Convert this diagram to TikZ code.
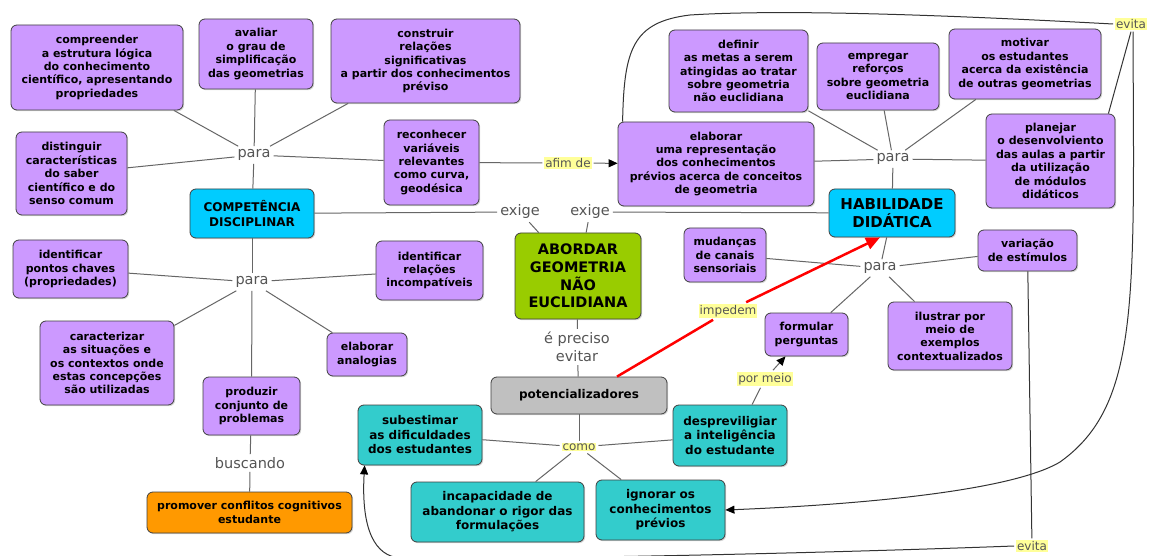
\documentclass[tikz,border=0pt]{standalone}
\usepackage{fontspec}
\setmainfont{DejaVu Sans}
\usetikzlibrary{arrows.meta,shadows}
\definecolor{purp}{HTML}{CC99FF}
\definecolor{cyanb}{HTML}{00CCFF}
\definecolor{greenb}{HTML}{99CC00}
\definecolor{orangeb}{HTML}{FF9900}
\definecolor{tealb}{HTML}{33CCCC}
\definecolor{greyb}{HTML}{C0C0C0}
\definecolor{lab}{HTML}{FFFF99}
\definecolor{linkc}{HTML}{555555}
\definecolor{edgec}{HTML}{666666}
\begin{document}
\begin{tikzpicture}[x=1pt,y=-1pt,
 concept/.style={draw=black!75, line width=0.8pt, rounded corners=6pt, align=center, inner sep=1pt,
   drop shadow={shadow xshift=1.2pt,shadow yshift=-1.2pt,opacity=0.3}},
 pbox/.style={concept, fill=purp, font=\fontsize{11}{13.4}\selectfont\bfseries},
 tbox/.style={concept, fill=tealb, font=\fontsize{12}{14.5}\selectfont\bfseries},
 link/.style={text=linkc, font=\fontsize{14.5}{18}\selectfont, inner sep=3pt, align=center},
 ylab/.style={fill=lab, text=linkc, font=\fontsize{12}{14}\selectfont, inner sep=1pt, outer sep=2pt},
 conn/.style={draw=edgec, line width=1pt},
 curve/.style={draw=black!80, line width=1pt},
 sz/.style 2 args={minimum width=#1pt, minimum height=#2pt},
 blacktip/.style={-{Triangle[length=9pt,width=8pt,color=black]}},
]
\fill[white] (0,0) rectangle (1149,556);
\useasboundingbox (0,0) rectangle (1149,556);

% nodes
\node[pbox, sz={172}{85}] (compr) at (97,67.5) {compreender\\a estrutura lógica\\do conhecimento\\científico, apresentando\\propriedades};
\node[pbox, sz={114}{70}] (aval) at (256,54) {avaliar\\o grau de\\simplificação\\das geometrias};
\node[pbox, sz={189}{84}] (constr) at (425.5,61) {construir\\relações\\significativas\\a partir dos conhecimentos\\préviso};
\node[pbox, sz={111}{83}] (dist) at (71.5,173.5) {distinguir\\características\\do saber\\científico e do\\senso comum};
\node[pbox, sz={95}{85}] (recon) at (431.5,162.5) {reconhecer\\variáveis\\relevantes\\como curva,\\geodésica};
\node[concept, fill=cyanb, sz={124}{49}, font=\fontsize{12}{14.5}\selectfont\bfseries] (comp) at (252,213.5) {COMPETÊNCIA\\DISCIPLINAR};
\node[link] (paraUL) at (254,155) {para};
\node[link] (exigeL) at (520,212) {exige};
\node[link] (exigeR) at (590,212) {exige};
\node[ylab] (afim) at (568,163) {afim de};
\node[pbox, sz={196}{84}] (elab) at (716,164) {elaborar\\uma representação\\dos conhecimentos\\prévios acerca de conceitos\\de geometria};
\node[pbox, sz={139}{82}] (defin) at (738.5,71) {definir\\as metas a serem\\atingidas ao tratar\\sobre geometria\\não euclidiana};
\node[pbox, sz={122}{67}] (empr) at (878,76.5) {empregar\\reforços\\sobre geometria\\euclidiana};
\node[pbox, sz={152}{70}] (motiv) at (1025,64) {motivar\\os estudantes\\acerca da existência\\de outras geometrias};
\node[pbox, sz={129}{94}] (plan) at (1050.5,161) {planejar\\o desenvolviento\\das aulas a partir\\da utilização\\de módulos\\didáticos};
\node[link] (paraUR) at (893,159) {para};
\node[concept, fill=cyanb, sz={126}{48}, font=\fontsize{15}{18}\selectfont\bfseries] (hab) at (892,213) {HABILIDADE\\DIDÁTICA};
\node[ylab] (evitaT) at (1131,24) {evita};
\node[ylab] (evitaB) at (1032,546) {evita};
\node[pbox, sz={115}{58}] (pontos) at (70.5,269) {identificar\\pontos chaves\\(propriedades)};
\node[link] (paraLL) at (252,282) {para};
\node[pbox, sz={107}{59}] (relac) at (429.5,270.5) {identificar\\relações\\incompatíveis};
\node[pbox, sz={134}{84}] (carac) at (107,363) {caracterizar\\as situações e\\os contextos onde\\estas concepções\\são utilizadas};
\node[pbox, sz={80}{43}] (analog) at (367,354.5) {elaborar\\analogias};
\node[pbox, sz={97}{58}] (produz) at (251.5,406) {produzir\\conjunto de\\problemas};
\node[link] (busc) at (250,463) {buscando};
\node[concept, fill=orangeb, sz={205}{41}, font=\fontsize{11}{13.4}\selectfont\bfseries] (promov) at (249.5,512.5) {promover conflitos cognitivos\\estudante};
\node[concept, fill=greenb, sz={126}{86}, font=\fontsize{14.5}{17.7}\selectfont\bfseries] (abord) at (578,276) {ABORDAR\\GEOMETRIA\\NÃO\\EUCLIDIANA};
\node[link] (precis) at (577,347) {é preciso\\evitar};
\node[concept, fill=greyb, sz={176}{37}, font=\fontsize{12}{14.5}\selectfont\bfseries] (potenc) at (579,395.5) {potencializadores};
\node[tbox, sz={124}{60}] (subest) at (420,435) {subestimar\\as dificuldades\\dos estudantes};
\node[ylab] (como) at (579,447) {como};
\node[tbox, sz={114}{61}] (despr) at (730,435.5) {despreviligiar\\a inteligência\\do estudante};
\node[tbox, sz={173}{60}] (incap) at (497.5,512) {incapacidade de\\abandonar o rigor das\\formulações};
\node[tbox, sz={129}{60}] (ignor) at (660.5,510) {ignorar os\\conhecimentos\\prévios};
\node[pbox, sz={82}{54}] (mudan) at (725,255) {mudanças\\de canais\\sensoriais};
\node[link] (paraLR) at (880,268) {para};
\node[pbox, sz={99}{41}] (varia) at (1027.5,250.5) {variação\\de estímulos};
\node[pbox, sz={83}{43}] (formul) at (806.5,334.5) {formular\\perguntas};
\node[pbox, sz={124}{68}] (ilustr) at (950,336) {ilustrar por\\meio de\\exemplos\\contextualizados};
\node[ylab] (imped) at (728,311) {impedem};
\node[ylab] (pormeio) at (765,379) {por meio};

% connectors: para (upper left)
\foreach \t in {compr,aval,constr,dist,recon,comp} \draw[conn] (paraUL) -- (\t);
% exige
\draw[conn] (comp) -- (exigeL);
\draw[conn] (exigeL) -- (abord);
\draw[conn] (hab) -- (exigeR);
\draw[conn] (exigeR) -- (abord);
% afim de
\draw[conn] (recon) -- (afim);
\draw[conn, blacktip] (afim) -- (elab);
% para (upper right)
\foreach \t in {defin,empr,motiv,elab,plan,hab} \draw[conn] (paraUR) -- (\t);
% para (lower left)
\foreach \t in {comp,pontos,relac,carac,analog,produz} \draw[conn] (paraLL) -- (\t);
\draw[conn] (produz) -- (busc);
\draw[conn] (busc) -- (promov);
% abordar -> potencializadores
\draw[conn] (abord) -- (precis);
\draw[conn] (precis) -- (potenc);
\draw[conn] (potenc) -- (como);
\foreach \t in {subest,despr,incap,ignor} \draw[conn] (como) -- (\t);
% para (lower right)
\foreach \t in {hab,mudan,varia,formul,ilustr} \draw[conn] (paraLR) -- (\t);
% por meio
\draw[conn] ([xshift=22pt]despr.north) -- (pormeio);
\draw[conn, blacktip] (pormeio) -- ([xshift=-21pt]formul.south);
% impedem (red)
\draw[red, line width=2.5pt] ([xshift=38pt]potenc.north) -- (imped);
\draw[red, line width=2.5pt, -{Triangle[length=14pt,width=12pt]}] (imped) -- ([xshift=-12pt]hab.south);
% evita (top)
\draw[curve] ([xshift=5pt]elab.north west) .. controls (624,50) and (632,22) .. (690,15)
   .. controls (800,8) and (1000,18) .. (evitaT.west);
\draw[curve] (evitaT.south) -- ([xshift=-7pt]plan.north east);
\draw[curve, blacktip] ([xshift=2pt]evitaT.south) .. controls (1134,300) and (1140,405) .. (1060,462)
   .. controls (1010,492) and (850,505) .. (ignor.east);
% evita (bottom)
\draw[curve] (varia) -- (evitaB);
\draw[curve, blacktip] (evitaB.west) .. controls (800,554) and (500,560) .. (400,558)
   .. controls (375,556) and (361,530) .. ([xshift=7pt]subest.south west);
\end{tikzpicture}
\end{document}
